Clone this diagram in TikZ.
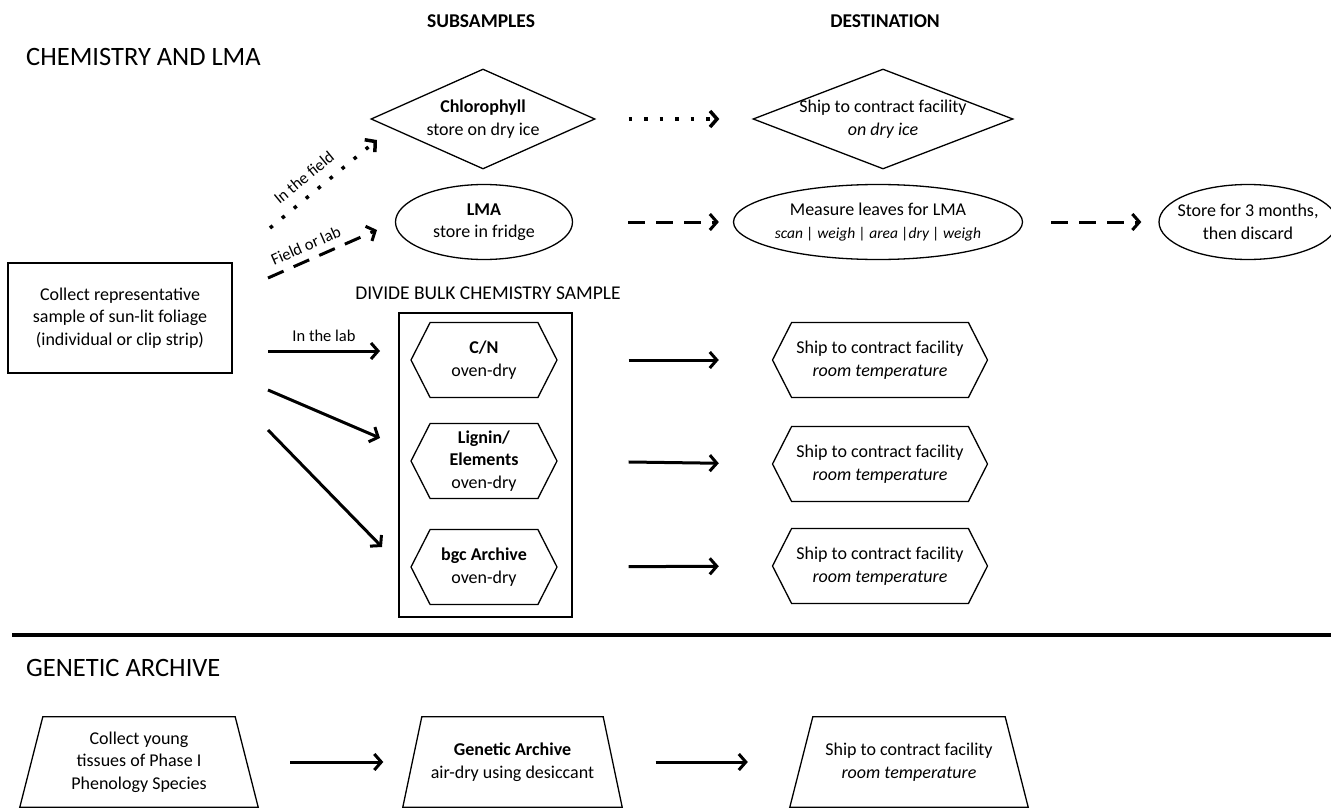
\documentclass[tikz,border=0pt]{standalone}
\usepackage{fontspec}
\setmainfont{Carlito}
\usetikzlibrary{shapes.geometric,shapes.symbols,arrows.meta}

\begin{document}
\begin{tikzpicture}[x=1pt,y=-1pt,
    every node/.style={align=center,inner sep=2pt,font=\fontsize{18}{22.5}\selectfont},
    box/.style={draw,line width=1.5pt},
    dia/.style={draw,diamond,inner sep=0pt,line width=1.3pt,minimum height=100pt},
    oval/.style={draw,ellipse,inner sep=0pt,line width=1.3pt,minimum height=75pt},
    hexa/.style={draw,signal,signal to=east and west,signal pointer angle=126,inner sep=0pt,line width=1.3pt,minimum height=75pt},
    trap/.style={inner sep=0pt,minimum height=90pt},
    edge/.style={line width=1.3pt,line join=miter},
    head/.style={anchor=west,font=\fontsize{26.5}{30}\selectfont},
    col/.style={font=\fontsize{19.5}{23}\bfseries\selectfont},
    lbl/.style={font=\fontsize{16.5}{19}\selectfont},
    arr/.style={line width=3pt,-{Straight Barb[length=7pt,width=16pt]}},
    dotarr/.style={arr,line width=3.5pt,dash pattern=on 3.5pt off 12pt},
    dasharr/.style={arr,dash pattern=on 17pt off 11pt}]
  \useasboundingbox (0,0) rectangle (1331,808);

  % headings
  \node[head] (chem) at (24,57) {CHEMISTRY AND LMA};
  \node[col] (subs) at (481,21) {SUBSAMPLES};
  \node[col] (dest) at (885,21) {DESTINATION};
  \node[head] (genet) at (24,668) {GENETIC ARCHIVE};

  % chemistry and lma
  \node[box,minimum width=224pt,minimum height=110pt] (collect) at (120,318)
    {Collect representative\\sample of sun-lit foliage\\(individual or clip strip)};
  \node[dia,minimum width=224pt,label={center:{\textbf{Chlorophyll}\\store on dry ice}}] (chl) at (483,119) {};
  \node[dia,minimum width=260pt,label={center:{Ship to contract facility\\\textit{on dry ice}}}] (shipice) at (883,119) {};
  \node[oval,minimum width=177pt,label={center:{\textbf{LMA}\\store in fridge}}] (lma) at (484,222) {};
  \node[oval,minimum width=289pt,label={center:{Measure leaves for LMA\\{\fontsize{15.5}{19}\itshape\selectfont scan | weigh | area |dry | weigh}}}] (measure) at (878,222) {};
  \node[oval,minimum width=178pt,label={center:{Store for 3 months,\\then discard}}] (store) at (1248,222) {};

  \node[font=\fontsize{19.5}{23}\selectfont] (divide) at (488,293) {DIVIDE BULK CHEMISTRY SAMPLE};
  \node[box,minimum width=173pt,minimum height=304pt] (bulk) at (485.5,465) {};
  \node[hexa,minimum width=146pt,label={center:{\textbf{C/N}\\oven-dry}}] (cn) at (484,360) {};
  \node[hexa,minimum width=146pt,label={center:{\textbf{Lignin/}\\\textbf{Elements}\\oven-dry}}] (lig) at (484,461) {};
  \node[hexa,minimum width=146pt,label={center:{\textbf{bgc Archive}\\oven-dry}}] (bgc) at (484,567) {};
  \node[hexa,minimum width=215pt,label={center:{Ship to contract facility\\\textit{room temperature}}}] (ship1) at (880,360) {};
  \node[hexa,minimum width=215pt,label={center:{Ship to contract facility\\\textit{room temperature}}}] (ship2) at (880,464) {};
  \node[hexa,minimum width=215pt,label={center:{Ship to contract facility\\\textit{room temperature}}}] (ship3) at (880,566) {};

  \coordinate (fieldA) at (270,228);
  \coordinate (fieldB) at (377,140);
  \coordinate (flabA) at (268,278);
  \coordinate (flabB) at (377,230);
  \coordinate (labA) at (268,351);
  \coordinate (labB) at (380,351);
  \coordinate (ligA) at (268,390);
  \coordinate (ligB) at (380,438);
  \coordinate (bgcA) at (268,430);
  \coordinate (bgcB) at (382,547);

  \begin{scope}
    \draw[dotarr] (fieldA) to node[lbl,pos=0.42,above=8pt,sloped] {In the field} (fieldB);
    \draw[dasharr] (flabA) to node[lbl,pos=0.4,above=5pt,sloped] {Field or lab} (flabB);
    \draw[arr] (labA) to node[lbl,above=6pt] {In the lab} (labB);
    \draw[arr] (ligA) to (ligB);
    \draw[arr] (bgcA) to (bgcB);
    \draw[dotarr,shorten <=33pt,shorten >=33pt] (chl.east) to (shipice.west);
    \draw[dasharr,shorten <=55pt,shorten >=14pt] (lma.east) to (measure.west);
    \draw[dasharr,shorten <=28pt,shorten >=17pt] (measure.east) to (store.west);
    \draw[arr,shorten <=71pt,shorten >=53pt] (cn.east) to (ship1.west);
    \draw[arr,shorten <=71pt,shorten >=53pt] (lig.east) to (ship2.west);
    \draw[arr,shorten <=71pt,shorten >=53pt] (bgc.east) to (ship3.west);
  \end{scope}

  \draw[line width=4pt] (12,635) -- (1331,635);

  % genetic archive
  \node[trap,minimum width=238pt] (young) at (139,762) {Collect young\\tissues of Phase I\\Phenology Species};
  \node[trap,minimum width=219pt] (garch) at (512.5,762) {\textbf{Genetic Archive}\\air-dry using desiccant};
  \node[trap,minimum width=238pt] (ship4) at (909,762) {Ship to contract facility\\\textit{room temperature}};
  \draw[edge] ([xshift=23pt]young.north west) -- ([xshift=-23pt]young.north east) -- (young.south east) -- (young.south west) -- cycle;
  \draw[edge] ([xshift=19pt]garch.north west) -- ([xshift=-19pt]garch.north east) -- (garch.south east) -- (garch.south west) -- cycle;
  \draw[edge] ([xshift=23pt]ship4.north west) -- ([xshift=-23pt]ship4.north east) -- (ship4.south east) -- (ship4.south west) -- cycle;
  \begin{scope}
    \draw[arr,shorten <=32pt,shorten >=19.5pt] (young.east) to (garch.west);
    \draw[arr,shorten <=33.5pt,shorten >=42pt] (garch.east) to (ship4.west);
  \end{scope}
\end{tikzpicture}
\end{document}
